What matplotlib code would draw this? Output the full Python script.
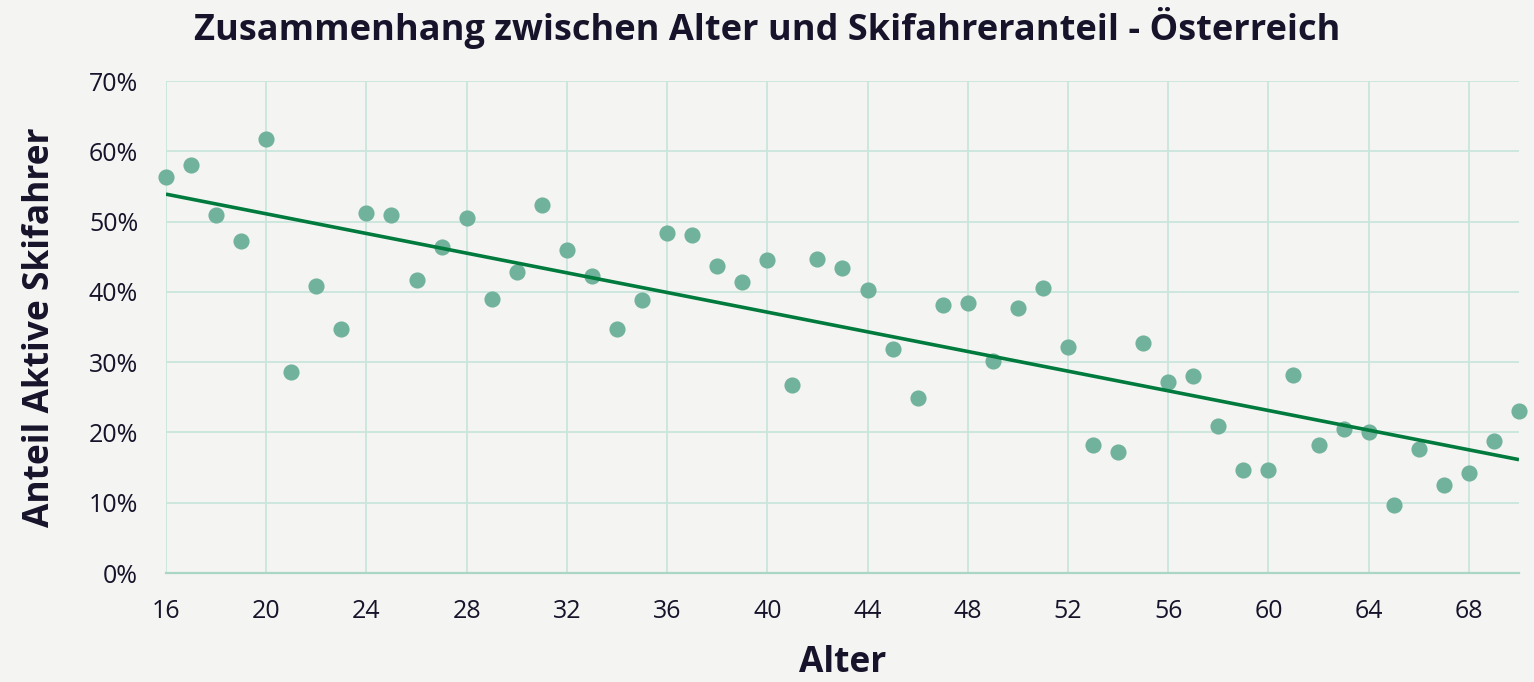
import numpy as np
import matplotlib
matplotlib.use("Agg")
import matplotlib.pyplot as plt
from matplotlib.ticker import FuncFormatter

# Alter vs. Anteil aktive Skifahrer (in %)
alter = list(range(16, 71))
anteil = [56.3, 58.0, 50.9, 47.2, 61.7, 28.6, 40.8, 34.7, 51.2, 50.9,
          41.7, 46.4, 50.5, 39.0, 42.8, 52.3, 45.9, 42.2, 34.7, 38.8,
          48.4, 48.1, 43.7, 41.4, 44.5, 26.7, 44.7, 43.4, 40.3, 31.9,
          24.9, 38.1, 38.4, 30.2, 37.7, 40.5, 32.1, 18.2, 17.2, 32.7,
          27.2, 28.0, 20.9, 14.7, 14.7, 28.2, 18.2, 20.5, 20.1, 9.7,
          17.6, 12.5, 14.2, 18.8, 23.0]
x_ticks = list(range(16, 70, 4))
y_ticks = list(range(0, 71, 10))

bg = "#f4f4f2"
txt = "#16132a"
plt.rcParams["font.family"] = ["Open Sans", "DejaVu Sans"]

fig = plt.figure(figsize=(15.34, 6.82), dpi=100, facecolor=bg)
ax = fig.add_axes([0.1082, 0.1598, 0.882, 0.7214], facecolor=bg)

x = np.array(alter)
y = np.array(anteil)
ax.scatter(x, y, s=135, color="#70b29b", linewidths=0, zorder=3, clip_on=False)

# lineare Trendlinie
k, d = np.polyfit(x, y, 1)
xl = np.array([16, 70])
ax.plot(xl, k * xl + d, color="#007a3d", lw=2.6, zorder=4, solid_capstyle="butt")

ax.set_xlim(16, 70)
ax.set_ylim(0, 70)
ax.set_xticks(x_ticks)
ax.set_yticks(y_ticks)
ax.yaxis.set_major_formatter(FuncFormatter(lambda v, p: f"{v:.0f}%"))
ax.grid(True, color="#c9e5dc", lw=1.3, zorder=0)
ax.set_axisbelow(True)
for s in ["left", "right", "top"]:
    ax.spines[s].set_visible(False)
ax.spines["bottom"].set_color("#a9d6c6")
ax.spines["bottom"].set_linewidth(1.6)
ax.tick_params(length=0, labelsize=18, colors=txt)
ax.tick_params(axis="x", pad=19)
ax.tick_params(axis="y", pad=20)

ax.set_xlabel("Alter", fontsize=25.5, fontweight="bold", color=txt, labelpad=15)
ax.set_ylabel("Anteil Aktive Skifahrer", fontsize=25.5, fontweight="bold", color=txt, labelpad=22)
fig.suptitle("Zusammenhang zwischen Alter und Skifahreranteil - Österreich",
             x=0.5, y=0.99, fontsize=26, fontweight="bold", color=txt)

fig.savefig("out.png", dpi=100, facecolor=bg)
